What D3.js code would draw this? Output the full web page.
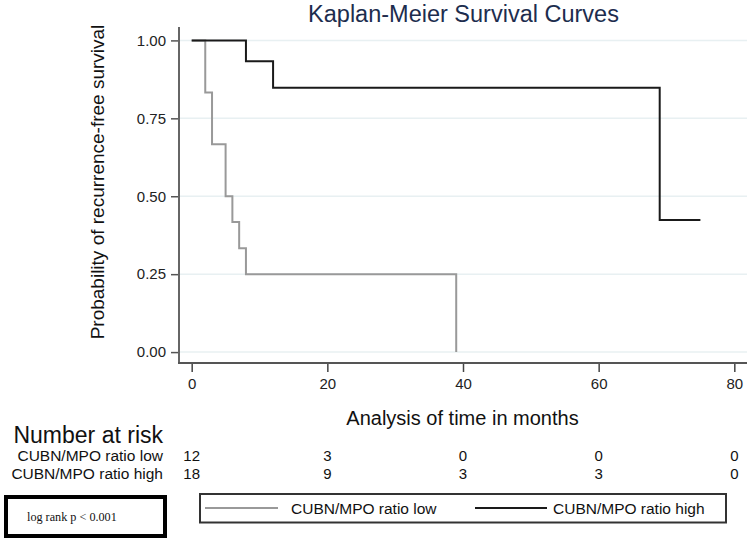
<!DOCTYPE html>
<html>
<head>
<meta charset="utf-8">
<script src="https://cdn.jsdelivr.net/npm/d3@7"></script>
<style>
  body { margin: 0; background: #fff; }
  svg { display: block; }
  text { font-family: "Liberation Sans", Arial, sans-serif; }
</style>
</head>
<body>
<svg id="chart" width="749" height="543"></svg>
<script>
// ---- Data ----
const groups = ["CUBN/MPO ratio low", "CUBN/MPO ratio high"];
// step curves: time (months) and survival probability after each step
const lowTimes = [0, 2, 3, 5, 6, 7, 8, 39];
const lowSurv  = [1.0, 0.833, 0.667, 0.5, 0.417, 0.333, 0.25, 0.0];
const lowEnd   = 39;
const highTimes = [0, 8, 12, 69];
const highSurv  = [1.0, 0.933, 0.848, 0.424];
const highEnd   = 75;
const xTicks = [0, 20, 40, 60, 80];
const yTicks = [0, 0.25, 0.5, 0.75, 1.0];
const riskLow  = [12, 3, 0, 0, 0];
const riskHigh = [18, 9, 3, 3, 0];
const titleText = "Kaplan-Meier Survival Curves";
const xLabel = "Analysis of time in months";
const yLabel = "Probability of recurrence-free survival";
const pText = "log rank p < 0.001";

// ---- Layout ----
const svg = d3.select("#chart");
const pLeft = 179, pRight = 747, pTop = 27, pBottom = 363;
const x = d3.scaleLinear().domain([-1.87, 81.87]).range([pLeft, pRight]);
const y = d3.scaleLinear().domain([-0.035, 1.043]).range([pBottom, pTop]);

// gridlines
svg.append("g").selectAll("line").data(yTicks).join("line")
  .attr("x1", pLeft).attr("x2", pRight)
  .attr("y1", d => y(d)).attr("y2", d => y(d))
  .attr("stroke", "#e8f0f2").attr("stroke-width", 1.5);

// axes
const yAxis = d3.axisLeft(y).tickValues(yTicks).tickFormat(d3.format(".2f")).tickSize(8).tickPadding(5);
const gy = svg.append("g").attr("transform", `translate(${pLeft},0)`).call(yAxis);
gy.select(".domain").remove();
gy.append("line").attr("x1", 0).attr("x2", 0).attr("y1", pTop).attr("y2", pBottom)
  .attr("stroke", "#666").attr("stroke-width", 2);
gy.selectAll(".tick line").attr("stroke", "#555").attr("stroke-width", 1.5);
gy.selectAll(".tick text").attr("font-size", 15).attr("fill", "#222")
  .style("font-family", "Liberation Sans, Arial, sans-serif");

const xAxis = d3.axisBottom(x).tickValues(xTicks).tickSize(9).tickPadding(6);
const gx = svg.append("g").attr("transform", `translate(0,${pBottom})`).call(xAxis);
gx.select(".domain").remove();
gx.append("line").attr("x1", pLeft - 1).attr("x2", pRight).attr("y1", 0).attr("y2", 0)
  .attr("stroke", "#555").attr("stroke-width", 2);
gx.selectAll(".tick line").attr("stroke", "#444").attr("stroke-width", 1.5);
gx.selectAll(".tick text").attr("font-size", 15).attr("fill", "#222")
  .style("font-family", "Liberation Sans, Arial, sans-serif");

// curves
function stepPts(times, surv, end) {
  const pts = times.map((t, i) => [t, surv[i]]);
  pts.push([end, surv[surv.length - 1]]);
  return pts;
}
const line = d3.line().x(d => x(d[0])).y(d => y(d[1])).curve(d3.curveStepAfter);
svg.append("path").datum(stepPts(lowTimes, lowSurv, lowEnd))
  .attr("d", line).attr("fill", "none").attr("stroke", "#999").attr("stroke-width", 2);
svg.append("path").datum(stepPts(highTimes, highSurv, highEnd))
  .attr("d", line).attr("fill", "none").attr("stroke", "#1a1a1a").attr("stroke-width", 2);

// title & labels
svg.append("text").attr("x", 463.5).attr("y", 21.5).attr("text-anchor", "middle")
  .attr("font-size", 23.5).attr("fill", "#1d2d4e").text(titleText);
svg.append("text").attr("x", 462.5).attr("y", 425).attr("text-anchor", "middle")
  .attr("font-size", 20).attr("fill", "#111").text(xLabel);
svg.append("text").attr("transform", "translate(104,182) rotate(-90)").attr("text-anchor", "middle")
  .attr("font-size", 19).attr("fill", "#111").text(yLabel);

// number at risk
svg.append("text").attr("x", 163).attr("y", 443).attr("text-anchor", "end")
  .attr("font-size", 23).attr("fill", "#111").text("Number at risk");
const rows = [riskLow, riskHigh];
const rowY = [461, 479];
rows.forEach((vals, i) => {
  svg.append("text").attr("x", 163).attr("y", rowY[i]).attr("text-anchor", "end")
    .attr("font-size", 15.5).attr("fill", "#111").text(groups[i]);
  svg.append("g").selectAll("text").data(vals).join("text")
    .attr("x", (d, j) => x(xTicks[j])).attr("y", rowY[i]).attr("text-anchor", "middle")
    .attr("font-size", 15).attr("fill", "#111").text(d => d);
});

// log rank box
svg.append("rect").attr("x", 6).attr("y", 497).attr("width", 159).attr("height", 39)
  .attr("fill", "#fff").attr("stroke", "#000").attr("stroke-width", 4);
svg.append("text").attr("x", 27).attr("y", 521).attr("font-size", 12.2)
  .style("font-family", "'Liberation Serif', 'Times New Roman', serif").attr("fill", "#111").text(pText);

// legend
svg.append("rect").attr("x", 200).attr("y", 494).attr("width", 526).attr("height", 28.5)
  .attr("fill", "#fff").attr("stroke", "#333").attr("stroke-width", 2);
const legItems = [
  {name: groups[0], color: "#999", x1: 205, x2: 278, tx: 291},
  {name: groups[1], color: "#1a1a1a", x1: 475, x2: 547, tx: 553}
];
legItems.forEach(it => {
  svg.append("line").attr("x1", it.x1).attr("x2", it.x2).attr("y1", 508).attr("y2", 508)
    .attr("stroke", it.color).attr("stroke-width", 2);
  svg.append("text").attr("x", it.tx).attr("y", 514).attr("font-size", 15.5)
    .attr("fill", "#111").text(it.name);
});
</script>
</body>
</html>
